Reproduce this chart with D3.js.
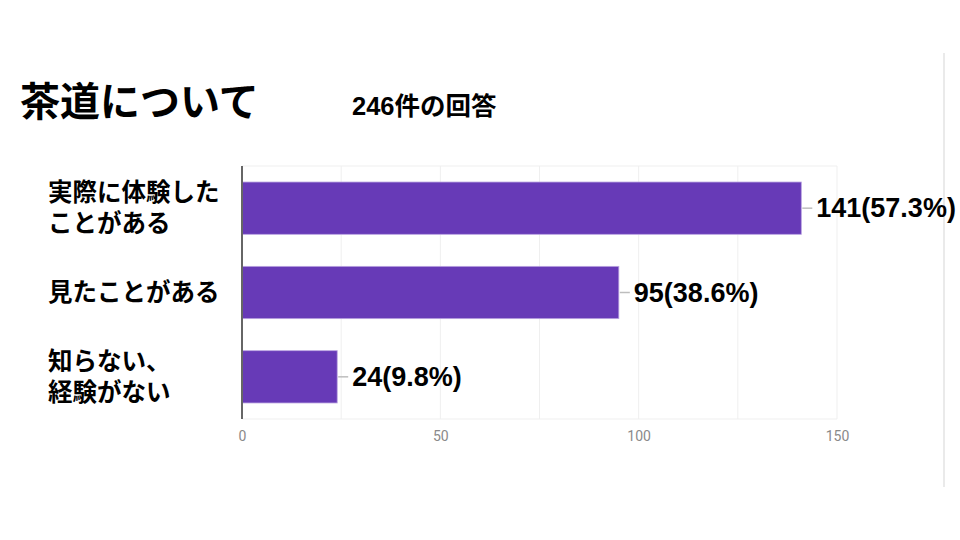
<!DOCTYPE html>
<html><head><meta charset="utf-8">
<script src="https://cdn.jsdelivr.net/npm/d3@7"></script>
<style>body{margin:0;background:#fff}svg{display:block}</style>
</head><body><svg id="c" width="960" height="540"></svg>
<script>
const title = "茶道について";
const subtitle = "246件の回答";
const categories = [["実際に体験した","ことがある"],["見たことがある"],["知らない、","経験がない"]];
const values = [141, 95, 24];
const percents = ["57.3%", "38.6%", "9.8%"];
const tickValues = [0, 50, 100, 150];
const gridValues = [0, 25, 50, 75, 100, 125, 150];

(function(){
const svg = d3.select("#c");
const jp = "'Noto Sans CJK JP','Noto Sans',sans-serif";
const ar = "'Liberation Sans',Arial,'Noto Sans CJK JP',sans-serif";
const rb = "Roboto,'Liberation Sans',Arial,sans-serif";
const pL = 242, pR = 837, pT = 166, pB = 419;
const x = d3.scaleLinear().domain([0,150]).range([pL,pR]);
const y = d3.scaleBand().domain(d3.range(values.length)).range([pT,pB]).paddingInner(0.38).paddingOuter(0.19);

// right border
svg.append("line").attr("x1",944).attr("x2",944).attr("y1",53).attr("y2",487).attr("stroke","#e3e3e3").attr("stroke-width",1.5);

svg.append("text").attr("x",20).attr("y",116).attr("font-family",jp).attr("font-weight",700).attr("font-size",40).attr("fill","#000").text(title);
svg.append("text").attr("x",352).attr("y",115).attr("font-family",ar).attr("font-weight",700).attr("font-size",25.5).attr("fill","#000").text(subtitle);

// grid
svg.append("g").selectAll("line").data(gridValues).join("line")
  .attr("x1",d=>x(d)).attr("x2",d=>x(d)).attr("y1",pT).attr("y2",pB).attr("stroke","#efefef").attr("stroke-width",1);
svg.append("line").attr("x1",pL).attr("x2",pR).attr("y1",pT).attr("y2",pT).attr("stroke","#efefef");
svg.append("line").attr("x1",pL).attr("x2",pR).attr("y1",pB).attr("y2",pB).attr("stroke","#efefef");

// x axis labels
const ax = svg.append("g").attr("transform",`translate(0,${pB})`)
  .call(d3.axisBottom(x).tickValues(tickValues).tickSize(0).tickPadding(12));
ax.select(".domain").remove();
ax.selectAll("text").attr("font-family",rb).attr("font-size",14).attr("fill","#8a8a8a");

// bars
svg.append("g").selectAll("rect").data(values).join("rect")
  .attr("x",x(0)).attr("y",(d,i)=>y(i)).attr("width",d=>x(d)-x(0)).attr("height",y.bandwidth())
  .attr("fill","#673ab7").attr("stroke","#b9a3e0").attr("stroke-width",0.8);

// axis line
svg.append("line").attr("x1",pL).attr("x2",pL).attr("y1",pT).attr("y2",pB).attr("stroke","#666").attr("stroke-width",2);

// value labels
const vl = svg.append("g").selectAll("g").data(values).join("g");
vl.append("line").attr("x1",d=>x(d)+1).attr("x2",d=>x(d)+11).attr("y1",(d,i)=>y(i)+y.bandwidth()/2).attr("y2",(d,i)=>y(i)+y.bandwidth()/2)
  .attr("stroke","#bdbdbd").attr("stroke-width",1.5);
vl.append("text").attr("x",d=>x(d)+15).attr("y",(d,i)=>y(i)+y.bandwidth()/2+9)
  .attr("font-family",ar).attr("font-weight",700).attr("font-size",27).attr("fill","#000")
  .text((d,i)=>`${d}(${percents[i]})`);

// category labels
const cl = svg.append("g").selectAll("g").data(categories).join("g")
  .attr("font-family",jp).attr("font-weight",700).attr("font-size",24.5).attr("fill","#000");
cl.each(function(lines,i){
  const cy = y(i)+y.bandwidth()/2;
  const lh = 30.5;
  const start = cy - (lines.length-1)*lh/2 + 8.5;
  d3.select(this).selectAll("text").data(lines).join("text")
    .attr("x",48).attr("y",(d,j)=>start+j*lh).text(d=>d);
});
})();
</script></body></html>
